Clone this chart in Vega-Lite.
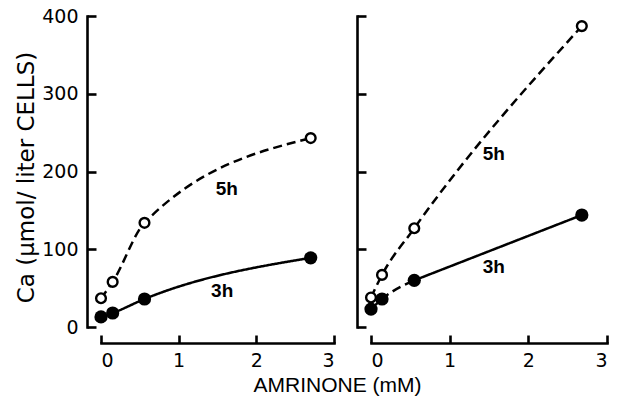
{
  "$schema": "https://vega.github.io/schema/vega-lite/v6.json",
  "autosize": "none",
  "padding": {"left": 101, "top": 16, "right": 527, "bottom": 383},
  "bounds": "flush",
  "spacing": 37,
  "background": "white",
  "config": {
    "view": {"stroke": null},
    "font": "DejaVu Sans",
    "axis": {
      "grid": false,
      "domainColor": "black",
      "domainWidth": 2.6,
      "domainCap": "square",
      "tickColor": "black",
      "tickWidth": 2.6,
      "labelColor": "black",
      "labelFont": "DejaVu Sans",
      "labelFontSize": 19,
      "titleColor": "black",
      "titleFont": "DejaVu Sans",
      "titleFontWeight": "normal"
    }
  },
  "datasets": {
    "pts": [
      {"panel": "A", "series": "5h", "x": 0, "y": 37},
      {"panel": "A", "series": "5h", "x": 0.15, "y": 58},
      {"panel": "A", "series": "5h", "x": 0.56, "y": 134},
      {"panel": "A", "series": "5h", "x": 2.7, "y": 243},
      {"panel": "A", "series": "3h", "x": 0, "y": 13},
      {"panel": "A", "series": "3h", "x": 0.15, "y": 18},
      {"panel": "A", "series": "3h", "x": 0.56, "y": 36},
      {"panel": "A", "series": "3h", "x": 2.7, "y": 89},
      {"panel": "B", "series": "5h", "x": 0, "y": 38},
      {"panel": "B", "series": "5h", "x": 0.14, "y": 67},
      {"panel": "B", "series": "5h", "x": 0.55, "y": 127},
      {"panel": "B", "series": "5h", "x": 2.68, "y": 387},
      {"panel": "B", "series": "3h", "x": 0, "y": 23},
      {"panel": "B", "series": "3h", "x": 0.14, "y": 36},
      {"panel": "B", "series": "3h", "x": 0.55, "y": 60},
      {"panel": "B", "series": "3h", "x": 2.68, "y": 144}
    ],
    "curves": [
      {"panel": "A", "curve": "A5", "style": "dashed", "x": 0, "y": 37},
      {"panel": "A", "curve": "A5", "style": "dashed", "x": 0.15, "y": 58},
      {"panel": "A", "curve": "A5", "style": "dashed", "x": 0.56, "y": 134},
      {"panel": "A", "curve": "A5", "style": "dashed", "x": 2.7, "y": 243},
      {"panel": "A", "curve": "A3", "style": "solid", "x": 0, "y": 13},
      {"panel": "A", "curve": "A3", "style": "solid", "x": 0.15, "y": 18},
      {"panel": "A", "curve": "A3", "style": "solid", "x": 0.56, "y": 36},
      {"panel": "A", "curve": "A3", "style": "solid", "x": 2.7, "y": 89},
      {"panel": "B", "curve": "B5", "style": "dashed", "x": 0, "y": 38},
      {"panel": "B", "curve": "B5", "style": "dashed", "x": 0.14, "y": 67},
      {"panel": "B", "curve": "B5", "style": "dashed", "x": 0.55, "y": 127},
      {"panel": "B", "curve": "B5", "style": "dashed", "x": 2.68, "y": 387},
      {"panel": "B", "curve": "B3a", "style": "dashed", "x": 0, "y": 23},
      {"panel": "B", "curve": "B3a", "style": "dashed", "x": 0.14, "y": 36},
      {"panel": "B", "curve": "B3a", "style": "dashed", "x": 0.55, "y": 60},
      {"panel": "B", "curve": "B3b", "style": "solid", "x": 0.55, "y": 60},
      {"panel": "B", "curve": "B3b", "style": "solid", "x": 2.68, "y": 144}
    ],
    "labels": [
      {"panel": "A", "label": "5h", "x": 1.62, "y": 177},
      {"panel": "A", "label": "3h", "x": 1.56, "y": 46},
      {"panel": "B", "label": "5h", "x": 1.56, "y": 222},
      {"panel": "B", "label": "3h", "x": 1.56, "y": 77}
    ]
  },
  "hconcat": [
    {
      "width": 233,
      "height": 311,
      "encoding": {
        "x": {
          "field": "x", "type": "quantitative",
          "scale": {"domain": [0, 3], "nice": false, "zero": false},
          "axis": {
            "values": [0, 1, 2, 3], "format": "d", "offset": 16,
            "tickSize": -8, "labelPadding": 16,
            "title": "AMRINONE (mM)", "titleFontSize": 21,
            "titleFont": "Liberation Sans Narrow, Liberation Sans",
            "titleX": 236, "titleY": 31, "titleAlign": "center", "titleBaseline": "top"
          }
        },
        "y": {
          "field": "y", "type": "quantitative",
          "scale": {"domain": [0, 400], "nice": false},
          "axis": {
            "values": [0, 100, 200, 300, 400], "offset": 14,
            "tickSize": -9, "labelPadding": 18,
            "title": "Ca (μmol/ liter CELLS)", "titleFontSize": 23,
            "titleX": -54, "titleY": 161, "titleAlign": "center", "titleBaseline": "alphabetic", "titleAngle": -90
          }
        }
      },
      "layer": [
        {
          "data": {"name": "curves"},
          "transform": [{"filter": "datum.panel == 'A'"}],
          "mark": {"type": "line", "interpolate": "monotone", "color": "black", "strokeWidth": 2.5},
          "encoding": {
            "detail": {"field": "curve", "type": "nominal"},
            "strokeDash": {"field": "style", "type": "nominal", "scale": {"domain": ["dashed", "solid"], "range": [[9, 5], [1, 0]]}, "legend": null}
          }
        },
        {
          "data": {"name": "pts"},
          "transform": [{"filter": "datum.panel == 'A' && datum.series == '3h'"}],
          "mark": {"type": "point", "shape": "circle", "filled": true, "color": "black", "size": 175, "opacity": 1}
        },
        {
          "data": {"name": "pts"},
          "transform": [{"filter": "datum.panel == 'A' && datum.series == '5h'"}],
          "mark": {"type": "point", "shape": "circle", "filled": false, "fill": "white", "fillOpacity": 1, "stroke": "black", "strokeWidth": 2.4, "size": 95, "opacity": 1}
        },
        {
          "data": {"name": "labels"},
          "transform": [{"filter": "datum.panel == 'A'"}],
          "mark": {"type": "text", "font": "Liberation Sans", "fontWeight": "bold", "fontSize": 19, "color": "black", "align": "center", "baseline": "middle"},
          "encoding": {"text": {"field": "label"}}
        }
      ]
    },
    {
      "width": 236,
      "height": 311,
      "encoding": {
        "x": {
          "field": "x", "type": "quantitative",
          "scale": {"domain": [0, 3], "nice": false, "zero": false},
          "axis": {
            "values": [0, 1, 2, 3], "format": "d", "offset": 16,
            "tickSize": -8, "labelPadding": 16, "title": null
          }
        },
        "y": {
          "field": "y", "type": "quantitative",
          "scale": {"domain": [0, 400], "nice": false},
          "axis": {
            "values": [0, 100, 200, 300, 400], "offset": 14,
            "tickSize": -9, "labels": false, "title": null
          }
        }
      },
      "layer": [
        {
          "data": {"name": "curves"},
          "transform": [{"filter": "datum.panel == 'B'"}],
          "mark": {"type": "line", "interpolate": "monotone", "color": "black", "strokeWidth": 2.5},
          "encoding": {
            "detail": {"field": "curve", "type": "nominal"},
            "strokeDash": {"field": "style", "type": "nominal", "scale": {"domain": ["dashed", "solid"], "range": [[9, 5], [1, 0]]}, "legend": null}
          }
        },
        {
          "data": {"name": "pts"},
          "transform": [{"filter": "datum.panel == 'B' && datum.series == '3h'"}],
          "mark": {"type": "point", "shape": "circle", "filled": true, "color": "black", "size": 175, "opacity": 1}
        },
        {
          "data": {"name": "pts"},
          "transform": [{"filter": "datum.panel == 'B' && datum.series == '5h'"}],
          "mark": {"type": "point", "shape": "circle", "filled": false, "fill": "white", "fillOpacity": 1, "stroke": "black", "strokeWidth": 2.4, "size": 95, "opacity": 1}
        },
        {
          "data": {"name": "labels"},
          "transform": [{"filter": "datum.panel == 'B'"}],
          "mark": {"type": "text", "font": "Liberation Sans", "fontWeight": "bold", "fontSize": 19, "color": "black", "align": "center", "baseline": "middle"},
          "encoding": {"text": {"field": "label"}}
        }
      ]
    }
  ]
}
